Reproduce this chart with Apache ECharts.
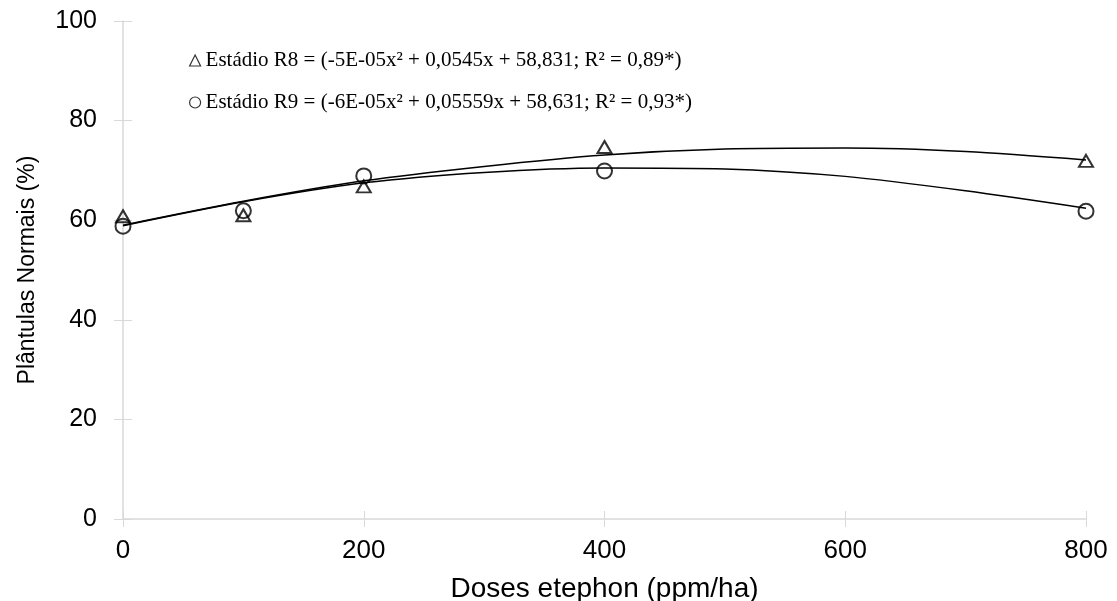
<!DOCTYPE html>
<html>
<head>
<meta charset="utf-8">
<script src="https://cdn.jsdelivr.net/npm/echarts@6/dist/echarts.min.js"></script>
<style>
  html, body { margin: 0; padding: 0; background: #fff; }
  #chart { width: 1117px; height: 601px; }
</style>
</head>
<body>
<div id="chart"></div>
<script>
// observed values
var doses = [0, 100, 200, 400, 800];
var r8Values = [60.8, 61.0, 66.8, 74.7, 71.9];
var r9Values = [58.8, 61.9, 68.9, 69.9, 61.8];

// fitted curves
var curveX = [0, 100, 200, 300, 400, 500, 600, 700, 800];
var r8Curve = [59.0, 63.8, 67.9, 70.8, 73.1, 74.3, 74.5, 73.8, 72.1];
var r9Curve = [58.9, 63.7, 67.5, 69.6, 70.5, 70.3, 68.8, 65.9, 62.4];

var r8Label = 'Estádio R8 = (-5E-05x² + 0,0545x + 58,831; R² = 0,89*)';
var r9Label = 'Estádio R9 = (-6E-05x² + 0,05559x + 58,631; R² = 0,93*)';

function pairs(xs, ys) {
  return xs.map(function (x, i) { return [x, ys[i]]; });
}

var myChart = echarts.init(document.getElementById('chart'));

var sans = 'Liberation Sans';

var option = {
  animation: false,
  backgroundColor: '#fff',
  grid: { left: 123, right: 31, top: 21, bottom: 82, containLabel: false, outerBoundsMode: 'none' },
  legend: {
    data: [r8Label, r9Label],
    orient: 'vertical',
    left: 184,
    top: 45,
    itemGap: 21,
    itemWidth: 11,
    itemHeight: 11,
    itemStyle: { borderWidth: 1.2 },
    textStyle: { fontFamily: 'Liberation Serif', fontSize: 21, color: '#000' }
  },
  xAxis: [
    {
      type: 'value', min: 0, max: 800, interval: 200,
      name: 'Doses etephon (ppm/ha)', nameLocation: 'middle', nameGap: 56,
      nameTextStyle: { fontFamily: sans, fontSize: 28, color: '#000' },
      axisLine: { lineStyle: { color: '#d9d9d9', width: 1.5 } },
      axisTick: { show: true, length: 8, lineStyle: { color: '#d9d9d9' } },
      axisLabel: { margin: 19, fontFamily: sans, fontSize: 26, color: '#000' },
      splitLine: { show: false }
    },
    {
      type: 'value', min: 0, max: 800, interval: 200, position: 'bottom',
      axisLine: { show: false },
      axisTick: { show: true, inside: true, length: 8, lineStyle: { color: '#d9d9d9' } },
      axisLabel: { show: false },
      splitLine: { show: false }
    }
  ],
  yAxis: [
    {
      type: 'value', min: 0, max: 100, interval: 20,
      name: 'Plântulas Normais (%)', nameLocation: 'middle', nameGap: 84,
      nameTextStyle: { fontFamily: sans, fontSize: 23, color: '#000' },
      axisLine: { show: true, lineStyle: { color: '#d9d9d9', width: 1.5 } },
      axisTick: { show: true, length: 9, lineStyle: { color: '#d9d9d9' } },
      axisLabel: { margin: 26, fontFamily: sans, fontSize: 25, color: '#000' },
      splitLine: { show: false }
    },
    {
      type: 'value', min: 0, max: 100, interval: 20, position: 'left',
      axisLine: { show: false },
      axisTick: { show: true, inside: true, length: 9, lineStyle: { color: '#d9d9d9' } },
      axisLabel: { show: false },
      splitLine: { show: false }
    }
  ],
  series: [
    {
      name: 'curva R8', type: 'line', smooth: 0.3, showSymbol: false,
      data: pairs(curveX, r8Curve),
      lineStyle: { color: '#000', width: 1.5 }, z: 2
    },
    {
      name: 'curva R9', type: 'line', smooth: 0.3, showSymbol: false,
      data: pairs(curveX, r9Curve),
      lineStyle: { color: '#000', width: 1.5 }, z: 2
    },
    {
      name: r8Label, type: 'scatter', symbol: 'triangle', symbolSize: [14, 12],
      data: pairs(doses, r8Values),
      itemStyle: { color: 'rgba(255,255,255,0)', borderColor: '#000', borderWidth: 2 }, z: 3
    },
    {
      name: r9Label, type: 'scatter', symbol: 'circle', symbolSize: 15,
      data: pairs(doses, r9Values),
      itemStyle: { color: 'rgba(255,255,255,0)', borderColor: '#000', borderWidth: 2 }, z: 3
    }
  ]
};

myChart.setOption(option);
</script>
</body>
</html>
